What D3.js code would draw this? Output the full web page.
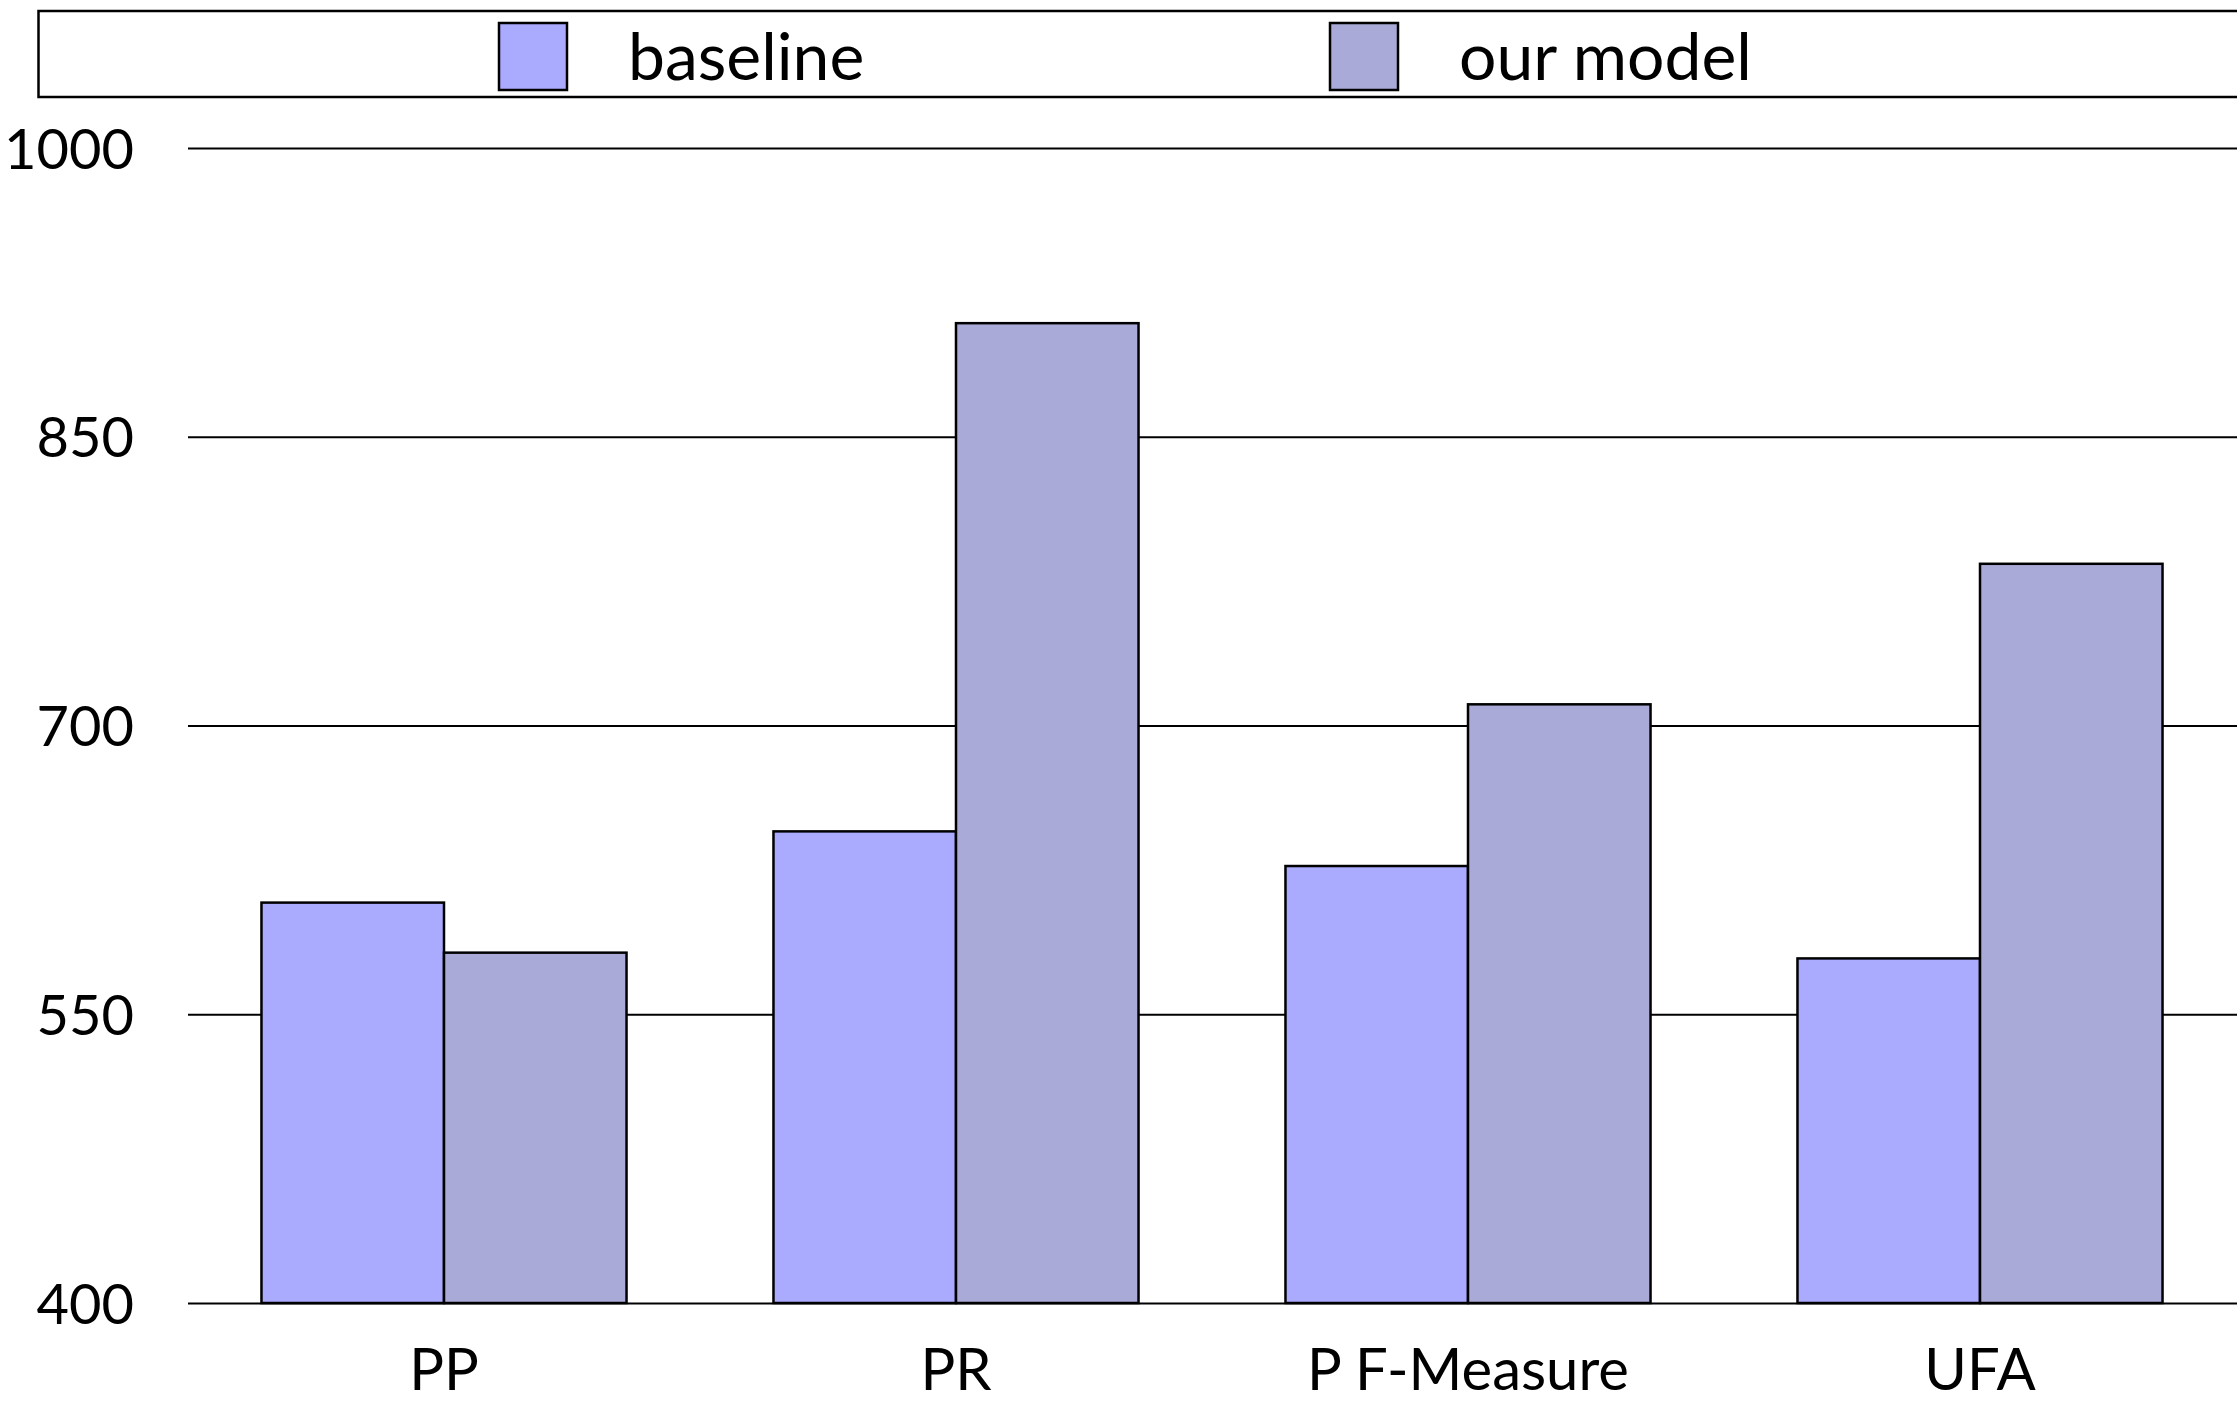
<!DOCTYPE html>
<html>
<head>
<meta charset="utf-8">
<script src="https://cdn.jsdelivr.net/npm/d3@7"></script>
<style>
  body { margin: 0; background: #fff; }
  svg { display: block; font-family: "Gill Sans", Lato, "Open Sans", sans-serif; }
</style>
</head>
<body>
<div id="chart"></div>
<script>
// DATA
const categories = ["PP", "PR", "P F-Measure", "UFA"]
const seriesNames = ["baseline", "our model"]
const baseline = [608, 645, 627, 579]
const ourModel = [582, 909, 711, 784]
const yTicks = [400, 550, 700, 850, 1000]

const width = 2237
const height = 1403
const margin = {top: 148, right: 1, bottom: 100, left: 188}
const font = '"Gill Sans", Lato, "Open Sans", sans-serif'

const svg = d3.select("#chart")
  .append("svg")
    .attr("width", width)
    .attr("height", height)

const color = d3.scaleOrdinal()
  .domain(seriesNames)
  .range(["#aaaaff", "#aaaad8"])

// SCALES
const xScale = d3.scaleBand()
  .domain(categories)
  .range([margin.left, width - margin.right])
  .paddingInner(0.287)
  .paddingOuter(0.1435)

const xSub = d3.scaleBand()
  .domain(seriesNames)
  .range([0, xScale.bandwidth()])

const yScale = d3.scaleLinear()
  .domain([400, 1000])
  .range([1303, margin.top])

// GRID + Y AXIS
const yAxis = svg.append("g")
  .attr("transform", `translate(${margin.left},0)`)
  .call(d3.axisLeft(yScale)
    .tickValues(yTicks)
    .tickSize(-(width - margin.left))
    .tickPadding(54)
    .tickFormat(d3.format("d")))
  .attr("font-family", font)
yAxis.select(".domain").remove()
yAxis.selectAll(".tick line").attr("stroke", "#000").attr("stroke-width", 2.2)
yAxis.selectAll(".tick text")
  .attr("font-size", 56)
  .attr("fill", "#000")
  .attr("dy", "0.36em")

// BARS
const rows = categories.map((c, i) => ({cat: c, values: [baseline[i], ourModel[i]]}))

svg.append("g")
  .selectAll("g")
  .data(rows)
  .join("g")
    .attr("transform", d => `translate(${xScale(d.cat)},0)`)
  .selectAll("rect")
  .data(d => seriesNames.map((k, j) => ({key: k, value: d.values[j]})))
  .join("rect")
    .attr("x", d => xSub(d.key))
    .attr("y", d => yScale(d.value))
    .attr("width", xSub.bandwidth())
    .attr("height", d => yScale(400) - yScale(d.value))
    .attr("fill", d => color(d.key))
    .attr("stroke", "#000")
    .attr("stroke-width", 2.5)

// X AXIS LABELS
const xAxis = svg.append("g")
  .attr("transform", `translate(0,${yScale(400)})`)
  .call(d3.axisBottom(xScale).tickSize(0).tickPadding(46))
  .attr("font-family", font)
xAxis.select(".domain").remove()
xAxis.selectAll("text")
  .attr("font-size", 58)
  .attr("fill", "#000")

// LEGEND
const legend = svg.append("g")
legend.append("rect")
  .attr("x", 38.5)
  .attr("y", 11)
  .attr("width", width)
  .attr("height", 86)
  .attr("fill", "#fff")
  .attr("stroke", "#000")
  .attr("stroke-width", 2.5)

const legendX = [499, 1330]
const legendItem = legend.selectAll("g.item")
  .data(seriesNames)
  .join("g")
    .attr("class", "item")
    .attr("transform", (d, i) => `translate(${legendX[i]},23)`)
legendItem.append("rect")
  .attr("width", 68)
  .attr("height", 67)
  .attr("fill", d => color(d))
  .attr("stroke", "#000")
  .attr("stroke-width", 2.5)
legendItem.append("text")
  .attr("x", 129)
  .attr("y", 57)
  .attr("font-size", 66)
  .attr("fill", "#000")
  .text(d => d)
</script>
</body>
</html>
